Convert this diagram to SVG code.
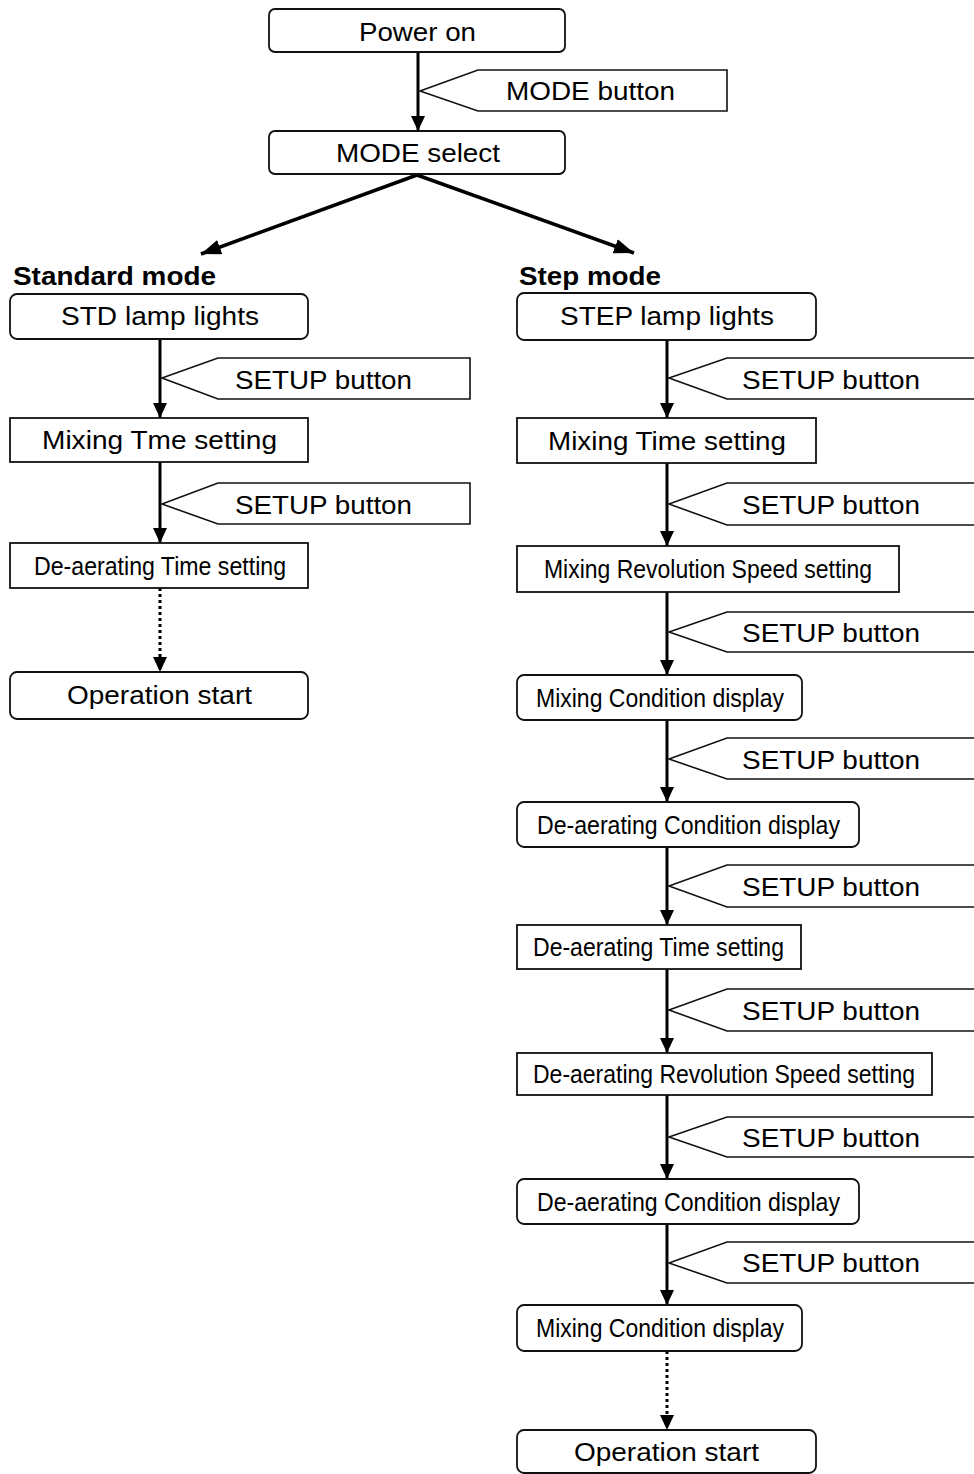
<svg xmlns="http://www.w3.org/2000/svg" width="974" height="1474" viewBox="0 0 974 1474">
<style>
.box{fill:#fff;stroke:#111;stroke-width:1.8}
.tag{fill:#fff;stroke:#111;stroke-width:1.6}
.t{font-family:"Liberation Sans",Arial,sans-serif;font-size:26px;fill:#000;text-anchor:middle}
.h{font-family:"Liberation Sans",Arial,sans-serif;font-size:26px;font-weight:bold;fill:#000}
.ln{stroke:#000;stroke-width:3;fill:none;marker-end:url(#ah)}
.lnb{stroke:#000;stroke-width:3.5;fill:none;marker-end:url(#ahb)}
.dl{stroke:#000;stroke-width:3;fill:none;stroke-dasharray:3 3;marker-end:url(#ah)}
</style>
<defs>
<marker id="ah" viewBox="0 0 15 14" refX="15" refY="7" markerWidth="15" markerHeight="14" markerUnits="userSpaceOnUse" orient="auto">
<path d="M0,0 L15,7 L0,14 z" fill="#000"/>
</marker>
<marker id="ahb" viewBox="0 0 20 15" refX="20" refY="7.5" markerWidth="20" markerHeight="15" markerUnits="userSpaceOnUse" orient="auto">
<path d="M0,0 L20,7.5 L0,15 z" fill="#000"/>
</marker>
</defs>
<rect width="974" height="1474" fill="#fff"/>

<g id="connectors">
<line class="ln" x1="418" y1="52" x2="418" y2="131"/>
<line class="lnb" x1="417" y1="175" x2="201" y2="254"/>
<line class="lnb" x1="417" y1="175" x2="634" y2="253"/>
<line class="ln" x1="160" y1="339" x2="160" y2="418"/>
<line class="ln" x1="160" y1="462" x2="160" y2="543"/>
<line class="dl" x1="160" y1="588" x2="160" y2="672"/>
<line class="ln" x1="667" y1="340" x2="667" y2="418"/>
<line class="ln" x1="667" y1="463" x2="667" y2="546"/>
<line class="ln" x1="667" y1="592" x2="667" y2="675"/>
<line class="ln" x1="667" y1="720" x2="667" y2="802"/>
<line class="ln" x1="667" y1="847" x2="667" y2="925"/>
<line class="ln" x1="667" y1="969" x2="667" y2="1053"/>
<line class="ln" x1="667" y1="1095" x2="667" y2="1179"/>
<line class="ln" x1="667" y1="1224" x2="667" y2="1305"/>
<line class="dl" x1="667" y1="1351" x2="667" y2="1430"/>
</g>

<g id="tag-mode"><polygon class="tag" points="420,91 478,70 727,70 727,111 478,111"/><text class="t" x="590.5" y="100" textLength="169" lengthAdjust="spacingAndGlyphs">MODE button</text></g>
<g id="tag-std-1"><polygon class="tag" points="162,378 218,358 470,358 470,399 218,399"/><text class="t" x="323.5" y="389" textLength="177" lengthAdjust="spacingAndGlyphs">SETUP button</text></g>
<g id="tag-std-2"><polygon class="tag" points="162,504 218,483 470,483 470,524 218,524"/><text class="t" x="323.5" y="514" textLength="177" lengthAdjust="spacingAndGlyphs">SETUP button</text></g>
<g id="tag-step-1"><polygon class="tag" points="669,378 727,358 990,358 990,399 727,399"/><text class="t" x="831" y="389" textLength="178" lengthAdjust="spacingAndGlyphs">SETUP button</text></g>
<g id="tag-step-2"><polygon class="tag" points="669,504 727,483 990,483 990,525 727,525"/><text class="t" x="831" y="514" textLength="178" lengthAdjust="spacingAndGlyphs">SETUP button</text></g>
<g id="tag-step-3"><polygon class="tag" points="669,632 727,612 990,612 990,652 727,652"/><text class="t" x="831" y="642" textLength="178" lengthAdjust="spacingAndGlyphs">SETUP button</text></g>
<g id="tag-step-4"><polygon class="tag" points="669,759 727,738 990,738 990,779 727,779"/><text class="t" x="831" y="769" textLength="178" lengthAdjust="spacingAndGlyphs">SETUP button</text></g>
<g id="tag-step-5"><polygon class="tag" points="669,886 727,865 990,865 990,907 727,907"/><text class="t" x="831" y="896" textLength="178" lengthAdjust="spacingAndGlyphs">SETUP button</text></g>
<g id="tag-step-6"><polygon class="tag" points="669,1010 727,989 990,989 990,1031 727,1031"/><text class="t" x="831" y="1020" textLength="178" lengthAdjust="spacingAndGlyphs">SETUP button</text></g>
<g id="tag-step-7"><polygon class="tag" points="669,1137 727,1117 990,1117 990,1157 727,1157"/><text class="t" x="831" y="1147" textLength="178" lengthAdjust="spacingAndGlyphs">SETUP button</text></g>
<g id="tag-step-8"><polygon class="tag" points="669,1263 727,1242 990,1242 990,1283 727,1283"/><text class="t" x="831" y="1272" textLength="178" lengthAdjust="spacingAndGlyphs">SETUP button</text></g>

<g id="power-on"><rect class="box" x="269" y="9" width="296" height="43" rx="6"/><text class="t" x="417.5" y="41" textLength="117" lengthAdjust="spacingAndGlyphs">Power on</text></g>
<g id="mode-select"><rect class="box" x="269" y="131" width="296" height="43" rx="6"/><text class="t" x="418" y="162" textLength="164" lengthAdjust="spacingAndGlyphs">MODE select</text></g>

<g id="standard-mode-label"><text class="h" x="13" y="285" textLength="203" lengthAdjust="spacingAndGlyphs">Standard mode</text></g>
<g id="step-mode-label"><text class="h" x="519" y="285" textLength="142" lengthAdjust="spacingAndGlyphs">Step mode</text></g>

<g id="std-lamp"><rect class="box" x="10" y="294" width="298" height="45" rx="7"/><text class="t" x="160" y="325" textLength="198" lengthAdjust="spacingAndGlyphs">STD lamp lights</text></g>
<g id="std-mixing-time"><rect class="box" x="10" y="418" width="298" height="44"/><text class="t" x="159.5" y="449" textLength="235" lengthAdjust="spacingAndGlyphs">Mixing Tme setting</text></g>
<g id="std-deaerating-time"><rect class="box" x="10" y="543" width="298" height="45"/><text class="t" x="160" y="575" textLength="252" lengthAdjust="spacingAndGlyphs">De-aerating Time setting</text></g>
<g id="std-operation-start"><rect class="box" x="10" y="672" width="298" height="47" rx="7"/><text class="t" x="159.5" y="704" textLength="185" lengthAdjust="spacingAndGlyphs">Operation start</text></g>

<g id="step-lamp"><rect class="box" x="517" y="293" width="299" height="47" rx="7"/><text class="t" x="667" y="325" textLength="214" lengthAdjust="spacingAndGlyphs">STEP lamp lights</text></g>
<g id="step-mixing-time"><rect class="box" x="517" y="418" width="299" height="45"/><text class="t" x="667" y="450" textLength="238" lengthAdjust="spacingAndGlyphs">Mixing Time setting</text></g>
<g id="step-mixing-rev"><rect class="box" x="517" y="546" width="382" height="46"/><text class="t" x="708" y="578" textLength="328" lengthAdjust="spacingAndGlyphs">Mixing Revolution Speed setting</text></g>
<g id="step-mixing-cond-1"><rect class="box" x="517" y="675" width="285" height="45" rx="7"/><text class="t" x="660" y="707" textLength="248" lengthAdjust="spacingAndGlyphs">Mixing Condition display</text></g>
<g id="step-deaerating-cond-1"><rect class="box" x="517" y="802" width="342" height="45" rx="7"/><text class="t" x="688.5" y="834" textLength="303" lengthAdjust="spacingAndGlyphs">De-aerating Condition display</text></g>
<g id="step-deaerating-time"><rect class="box" x="517" y="925" width="284" height="44"/><text class="t" x="658.5" y="956" textLength="251" lengthAdjust="spacingAndGlyphs">De-aerating Time setting</text></g>
<g id="step-deaerating-rev"><rect class="box" x="517" y="1053" width="415" height="42"/><text class="t" x="724" y="1083" textLength="382" lengthAdjust="spacingAndGlyphs">De-aerating Revolution Speed setting</text></g>
<g id="step-deaerating-cond-2"><rect class="box" x="517" y="1179" width="342" height="45" rx="7"/><text class="t" x="688.5" y="1211" textLength="303" lengthAdjust="spacingAndGlyphs">De-aerating Condition display</text></g>
<g id="step-mixing-cond-2"><rect class="box" x="517" y="1305" width="285" height="46" rx="7"/><text class="t" x="660" y="1337" textLength="248" lengthAdjust="spacingAndGlyphs">Mixing Condition display</text></g>
<g id="step-operation-start"><rect class="box" x="517" y="1430" width="299" height="43" rx="7"/><text class="t" x="666.5" y="1461" textLength="185" lengthAdjust="spacingAndGlyphs">Operation start</text></g>
</svg>
